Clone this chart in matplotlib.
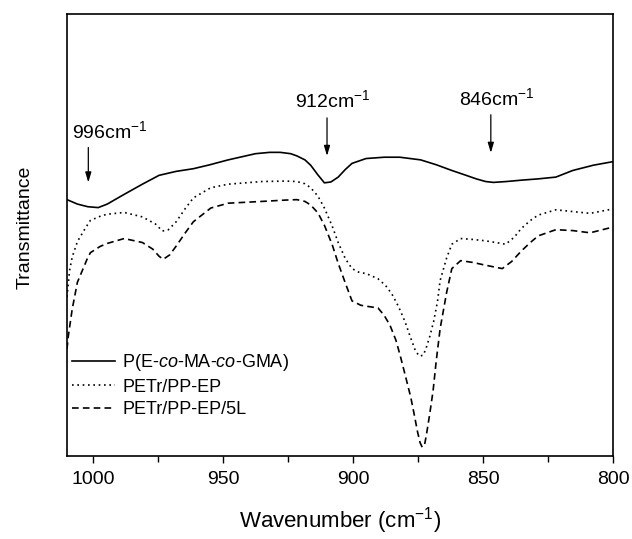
import matplotlib
matplotlib.use("Agg")
import matplotlib.pyplot as plt
from matplotlib.ticker import MultipleLocator

plt.rcParams['font.family'] = ['Liberation Sans', 'DejaVu Sans']
plt.rcParams['mathtext.fontset'] = 'custom'
plt.rcParams['mathtext.rm'] = 'Liberation Sans'
plt.rcParams['mathtext.it'] = 'Liberation Sans:italic'

# ---- data (y = relative transmittance, 0..1 of axis) ----
wn_solid = [1010, 1006, 1002, 998, 994.5, 988, 981, 974.6, 968, 961.4, 955, 948, 942,
            937.5, 932, 928, 924, 921.6, 918.5, 916.3, 913.5, 911, 908.5, 905.7, 903,
            900.4, 895, 888, 882, 874, 868, 862, 857, 852.6, 849, 846, 841, 835.4,
            828.8, 822, 815.5, 807.5, 800]
y_solid = [0.580, 0.570, 0.564, 0.562, 0.570, 0.592, 0.615, 0.635, 0.644, 0.650, 0.659,
           0.670, 0.678, 0.684, 0.687, 0.687, 0.684, 0.679, 0.670, 0.658, 0.636, 0.618,
           0.620, 0.631, 0.648, 0.662, 0.673, 0.676, 0.676, 0.670, 0.659, 0.646, 0.636,
           0.627, 0.621, 0.619, 0.621, 0.624, 0.627, 0.631, 0.646, 0.658, 0.666]

wn_dot = [1010, 1009, 1008, 1006, 1003, 1001, 997, 994.5, 988, 981, 976, 973.3, 971,
          968, 964.5, 961.4, 954.7, 948, 935, 926, 921.6, 918.5, 916.3, 913.5, 911, 908,
          905.7, 903, 900.4, 897.5, 895, 890.4, 887.5, 885, 882.5, 880, 878, 876,
          874.5, 873, 872, 870.5, 869, 867.5, 866.5, 864, 862, 858.6, 854, 849.3, 845,
          841.3, 838, 835.4, 832, 828.8, 822, 815.5, 808.8, 800]
y_dot = [0.360, 0.420, 0.450, 0.485, 0.515, 0.533, 0.543, 0.547, 0.551, 0.541, 0.525,
         0.509, 0.512, 0.530, 0.560, 0.584, 0.607, 0.615, 0.621, 0.622, 0.621, 0.616,
         0.607, 0.588, 0.561, 0.520, 0.483, 0.447, 0.424, 0.415, 0.413, 0.401, 0.386,
         0.366, 0.338, 0.304, 0.270, 0.238, 0.226, 0.228, 0.242, 0.270, 0.304, 0.350,
         0.397, 0.448, 0.479, 0.492, 0.490, 0.487, 0.483, 0.479, 0.495, 0.514, 0.532,
         0.545, 0.557, 0.553, 0.549, 0.559]

wn_dash = [1010, 1009.5, 1008, 1006, 1002.3, 1001, 997.3, 994.5, 988, 981, 977,
           974.6, 973, 970.5, 968, 964.5, 961.4, 954.7, 948, 935, 926, 921.6, 918.5,
           916.3, 913.5, 911, 908, 905.7, 903, 900.4, 897, 895, 890.4, 888, 885.8,
           883.5, 881.8, 879.8, 877.8, 876.5, 875.2, 874.2, 873.4, 872.5, 871.8, 870.5,
           869.2, 868, 866.5, 864, 862, 858.6, 854, 849.3, 846, 842.6, 839, 835.4, 832,
           828.8, 822, 815.5, 808.8, 800]
y_dash = [0.242, 0.271, 0.332, 0.393, 0.445, 0.460, 0.474, 0.481, 0.492, 0.483, 0.468,
          0.452, 0.445, 0.455, 0.475, 0.505, 0.530, 0.561, 0.572, 0.576, 0.579, 0.580,
          0.576, 0.568, 0.550, 0.522, 0.478, 0.436, 0.392, 0.351, 0.341, 0.339, 0.335,
          0.318, 0.296, 0.262, 0.226, 0.180, 0.133, 0.095, 0.055, 0.030, 0.020, 0.025,
          0.047, 0.095, 0.148, 0.215, 0.288, 0.370, 0.424, 0.442, 0.438, 0.432, 0.428,
          0.424, 0.440, 0.463, 0.482, 0.498, 0.512, 0.510, 0.505, 0.518]

labels = ['P(E-$\\it{co}$-MA-$\\it{co}$-GMA)', 'PETr/PP-EP', 'PETr/PP-EP/5L']

peak_labels = ['996', '912', '846']
arrow_x = [1001.8, 910.0, 847.0]
arrow_tail_y = [0.698, 0.765, 0.772]
arrow_tip_y = [0.619, 0.679, 0.686]
label_x = [993.5, 907.7, 844.6]
label_y = [0.734, 0.806, 0.810]

x_major = [1000, 950, 900, 850, 800]

# ---- figure ----
fig = plt.figure(figsize=(6.32, 5.39), dpi=100)
ax = fig.add_axes([0.106, 0.154, 0.864, 0.820])

ax.plot(wn_solid, y_solid, color='black', lw=1.2, ls='-', label=labels[0])
ax.plot(wn_dot, y_dot, color='black', lw=1.2, ls=(0, (1, 2.2)), label=labels[1])
ax.plot(wn_dash, y_dash, color='black', lw=1.2, ls=(0, (4, 2.5)), label=labels[2])

for lab, ax_x, ty, hy, lx, ly in zip(peak_labels, arrow_x, arrow_tail_y, arrow_tip_y,
                                      label_x, label_y):
    ax.annotate('', xy=(ax_x, hy), xytext=(ax_x, ty),
                arrowprops=dict(arrowstyle='-|>,head_length=0.6,head_width=0.18',
                                color='black', lw=0.9, shrinkA=0, shrinkB=0))
    ax.text(lx, ly, lab + 'cm$^{-1}$', ha='center', va='center', fontsize=14)

ax.set_xlim(1010, 800)
ax.set_ylim(0, 1)
ax.set_xticks(x_major)
ax.xaxis.set_minor_locator(MultipleLocator(25))
ax.tick_params(axis='x', which='major', direction='out', length=5, width=1,
               labelsize=14, pad=6)
ax.tick_params(axis='x', which='minor', direction='out', length=4, width=1)
ax.set_yticks([])
for s in ax.spines.values():
    s.set_linewidth(1.2)

ax.set_xlabel('Wavenumber (cm$^{-1}$)', fontsize=16, labelpad=12)
ax.set_ylabel('Transmittance', fontsize=14)
ax.yaxis.set_label_coords(-0.061, 0.517)

ax.legend(loc='upper left', bbox_to_anchor=(0.009, 0.235), frameon=False,
          fontsize=13, handlelength=2.4, handletextpad=0.4, labelspacing=0.3,
          borderpad=0, borderaxespad=0)

fig.savefig('out.png', dpi=100)
